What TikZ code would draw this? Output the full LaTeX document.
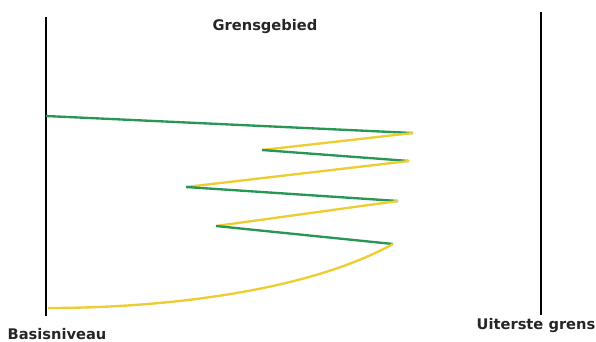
\documentclass[tikz,border=0pt]{standalone}
\usepackage{fontspec}
\setsansfont{DejaVu Sans}

\definecolor{lijngroen}{RGB}{40,150,85}
\definecolor{lijngeel}{RGB}{238,205,50}

\begin{document}
\begin{tikzpicture}[x=0.03cm, y=-0.03cm, font=\sffamily\bfseries\fontsize{12.5}{14}\selectfont]
  \tikzstyle{as}=[draw=black, line width=1.6pt]
  \tikzstyle{groen}=[draw=lijngroen, line width=2pt]
  \tikzstyle{geel}=[draw=lijngeel, line width=2pt]
  \tikzstyle{lbl}=[inner sep=0pt, text=black!85]

  \useasboundingbox (0,0) rectangle (596,342);

  % --- de twee grenzen ---
  \coordinate (basisboven) at (46,17);
  \coordinate (basisonder) at (46,316);
  \coordinate (uiterstboven) at (541,12);
  \coordinate (uiterstonder) at (541,315);
  \draw[as] (basisboven) -- (basisonder);
  \draw[as] (uiterstboven) -- (uiterstonder);

  \node[lbl] (grensgebied) at (265,27) {Grensgebied};
  \node[lbl] (basisniveau) at (57,334) {Basisniveau};
  \node[lbl] (uiterstegrens) at (536,326) {Uiterste grens};

  % --- zigzag ---
  \coordinate (p0) at (46,116);
  \coordinate (p1) at (413,133);
  \coordinate (p2) at (262,150);
  \coordinate (p3) at (409,161);
  \coordinate (p4) at (186,187);
  \coordinate (p5) at (398,201);
  \coordinate (p6) at (216,226);
  \coordinate (p7) at (393,244);
  \coordinate (p8) at (48,308);

  \draw[groen] (p0) -- (p1);
  \draw[geel] (p1) -- (p2);
  \draw[groen] (p2) -- (p3);
  \draw[geel] (p3) -- (p4);
  \draw[groen] (p4) -- (p5);
  \draw[geel] (p5) -- (p6);
  \draw[groen] (p6) -- (p7);
  \draw[geel] (p7) .. controls (310,290) and (170,308) .. (p8);
\end{tikzpicture}
\end{document}
